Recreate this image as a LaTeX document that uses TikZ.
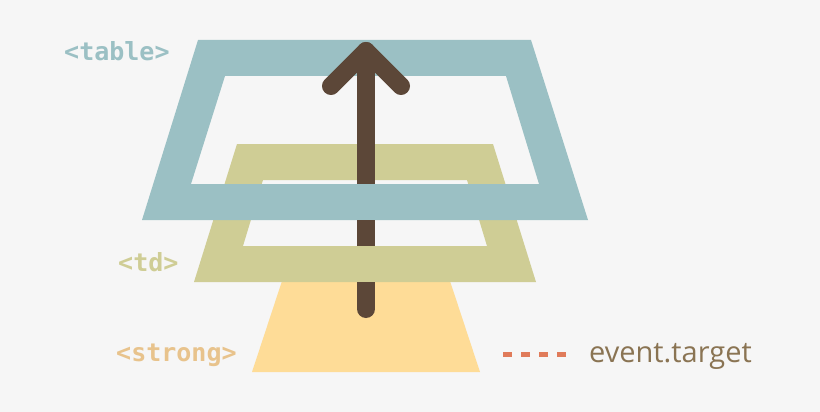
\documentclass[tikz,border=0pt]{standalone}
\usepackage{fontspec}
\setmainfont{Open Sans}
\newfontfamily\monofnt{DejaVu Sans Mono}
\definecolor{bgc}{HTML}{F6F6F6}
\definecolor{tablec}{HTML}{9BC0C4}
\definecolor{tdc}{HTML}{CFCD95}
\definecolor{strongc}{HTML}{FEDC97}
\definecolor{strongt}{HTML}{E8C38C}
\definecolor{arrowc}{HTML}{5C4738}
\definecolor{dashc}{HTML}{E07B5A}
\definecolor{evc}{HTML}{8A7453}
\begin{document}
\begin{tikzpicture}[x=1pt,y=-1pt,
  lbl/.style={anchor=base west,inner sep=0pt,font=\monofnt\bfseries\fontsize{25}{25}\selectfont},
  arrowline/.style={draw=arrowc,line width=18pt,line cap=round,line join=round}]
\fill[bgc] (0,0) rectangle (820,412);
\useasboundingbox (0,0) rectangle (820,412);
% strong
\fill[strongc] (282,281) -- (450,281) -- (480,372) -- (252,372) -- cycle;
% td frame
\fill[tdc,even odd rule] (237,144) -- (493,144) -- (536,282) -- (194,282) -- cycle
  (263,180) -- (467,180) -- (487,246) -- (243,246) -- cycle;
% table frame
\fill[tablec,even odd rule] (198,40) -- (531,40) -- (588,220) -- (142,220) -- cycle
  (225,76) -- (506,76) -- (539,184) -- (191,184) -- cycle;
% arrow
\coordinate (tip) at (366,51);
\coordinate (hl) at (331,86);
\coordinate (hr) at (401,86);
\coordinate (tail) at (366,309);
\draw[arrowline] (hl) -- (tip) -- (hr);
\draw[arrowline] (tip) -- (tail);
% front parts of bottom bars (arrow passes behind them)
\fill[tablec] (350,184) rectangle (382,220);
\fill[tdc] (350,246) rectangle (382,282);
% labels
\node[lbl,text=tablec] (ltable) at (64,61) {<table>};
\node[lbl,text=tdc] (ltd) at (118,271) {<td>};
\node[lbl,text=strongt] (lstrong) at (116,361) {<strong>};
% legend
\coordinate (d1) at (503,354);
\coordinate (d2) at (568,354);
\draw[dashc,line width=5pt,dash pattern=on 9pt off 9pt] (d1) -- (d2);
\node[anchor=base west,inner sep=0pt,text=evc,font=\fontsize{29}{29}\selectfont] (ev) at (589,362) {event.target};
\end{tikzpicture}
\end{document}
